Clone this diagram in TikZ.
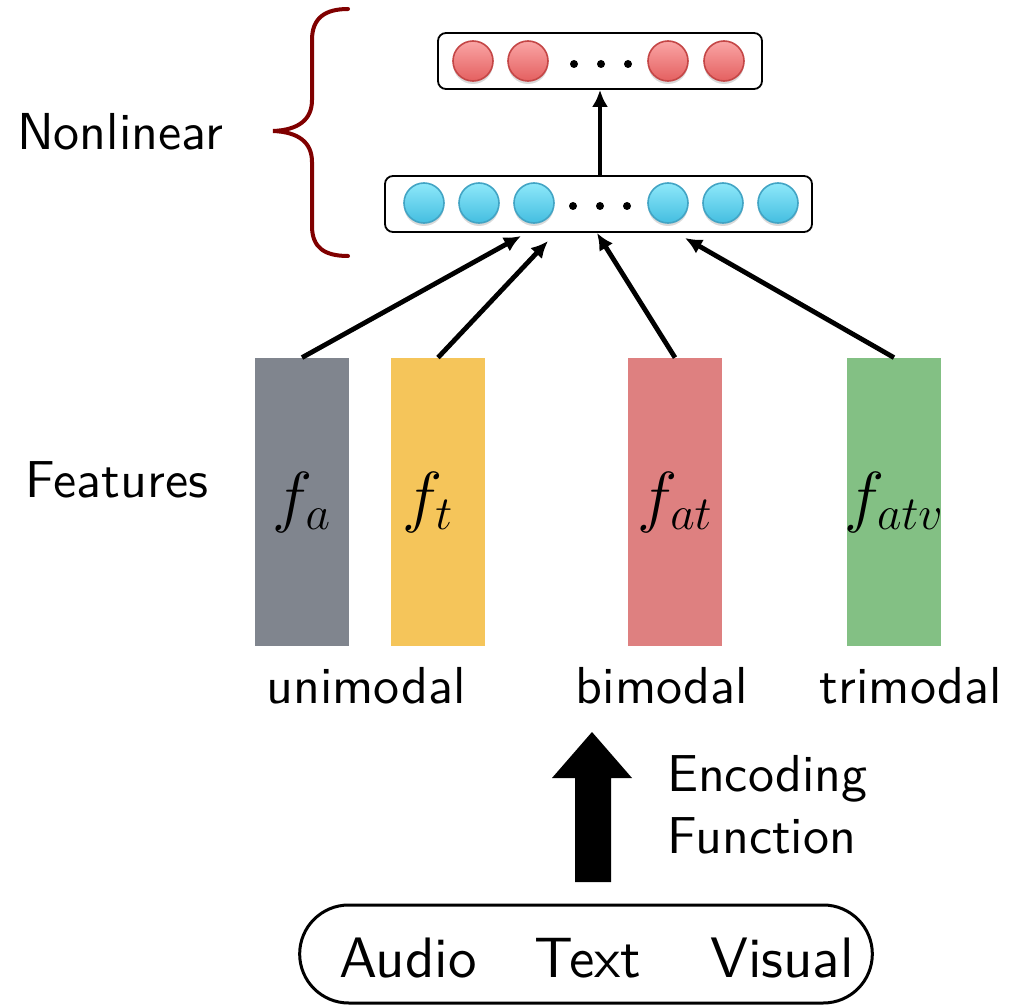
\RequirePackage{fix-cm}
\documentclass[tikz,border=0pt]{standalone}
\usepackage{fontspec}
\setsansfont{lmsans10-regular.otf}
\usepackage{tikz}
\usetikzlibrary{arrows.meta,positioning,shapes.misc,shadows,calc}
\definecolor{barGray}{RGB}{128,133,142}
\definecolor{barYellow}{RGB}{245,197,90}
\definecolor{barRed}{RGB}{222,128,128}
\definecolor{barGreen}{RGB}{131,192,132}
\definecolor{braceRed}{RGB}{128,0,0}
\definecolor{redTop}{RGB}{250,165,165}
\definecolor{redBot}{RGB}{228,96,96}
\definecolor{redEdge}{RGB}{196,70,70}
\definecolor{blueTop}{RGB}{142,232,250}
\definecolor{blueBot}{RGB}{68,190,224}
\definecolor{blueEdge}{RGB}{66,164,196}
\tikzset{
  mylayer/.style = {rectangle, rounded corners=4pt, draw, line width=0.9pt, minimum height=28pt},
  myunit/.style = {circle, line width=0.8pt, minimum size=20pt, inner sep=0pt,
    drop shadow={shadow xshift=0pt, shadow yshift=-1.5pt, opacity=0.3}},
  myred/.style = {myunit, draw=redEdge, top color=redTop, bottom color=redBot},
  myblue/.style = {myunit, draw=blueEdge, top color=blueTop, bottom color=blueBot},
  mybar/.style = {rectangle, minimum width=47pt, minimum height=144pt, inner sep=0pt,
    font=\fontsize{34}{40}\selectfont},
  myarrow/.style = {-{Latex[length=8.5pt,width=8pt]}, line width=2.4pt},
  mytext/.style = {font=\fontsize{26}{31}\selectfont\sffamily},
  mybig/.style = {font=\fontsize{28.5}{34}\selectfont\sffamily},
}

\begin{document}
\begin{tikzpicture}[x=0.5pt,y=-0.5pt]
\useasboundingbox (0,0) rectangle (1014,1006);
% layers
\node[mylayer, minimum width=162pt] (out) at (600,61) {};
\node[mylayer, minimum width=213.5pt] (hid) at (598.5,204) {};
\foreach \x [count=\i] in {473,528,668,724}
  \node[myred] (o\i) at (\x,61) {};
\foreach \x [count=\i] in {424,479,534,668,723,778}
  \node[myblue] (h\i) at (\x,203) {};
\foreach \x in {574,601,628} {
  \fill (\x,64) circle (2pt);
  \fill (\x-1,206) circle (2pt);
}
\draw[myarrow, line width=2pt] (hid.north -| out.south) -- (out.south);
% brace
\draw[braceRed, line width=2pt, line cap=round]
  (348,9) .. controls (325,9) and (312,18) .. (312,40) -- (312,100)
  .. controls (312,120) and (298,130) .. (273,131)
  .. controls (298,132) and (312,142) .. (312,162) -- (312,226)
  .. controls (312,248) and (325,256) .. (348,256);
\node[mytext, anchor=base] (nl) at (120,150) {Nonlinear};
% features
\node[mybar, fill=barGray] (fa) at (302,502) {$f_a$};
\node[mybar, fill=barYellow] (ft) at (438,502) {\hspace*{-10pt}$f_t$};
\node[mybar, fill=barRed] (fat) at (675,502) {$f_{at}$};
\node[mybar, fill=barGreen] (fatv) at (894,502) {\makebox[0pt]{$f_{atv}$}};
\node[mytext, anchor=base] (feat) at (117,497) {Features};
\coordinate (ina) at (521,236);
\coordinate (int) at (548,241);
\coordinate (inat) at (597,233);
\coordinate (inatv) at (685,238);
\draw[myarrow] (fa.north) -- (ina);
\draw[myarrow] (ft.north) -- (int);
\draw[myarrow] (fat.north) -- (inat);
\draw[myarrow] (fatv.north) -- (inatv);
\node[mytext, anchor=base] (uni) at (366,703) {unimodal};
\node[mytext, anchor=base] (bi) at (662,703) {bimodal};
\node[mytext, anchor=base] (tri) at (911,703) {trimodal};
% encoding
\fill (575,882) -- (575,778) -- (552,778) -- (592,732) -- (632,778)
  -- (611,778) -- (611,882) -- cycle;
\node[mytext, anchor=base west] (enc) at (660,791) {Encoding};
\node[mytext, anchor=base west] (fun) at (660,853) {Function};
% input
\node[rounded rectangle, draw, line width=1.5pt, minimum width=293pt,
  minimum height=49pt] (inp) at (586,954) {};
\node[mybig, anchor=base] (aud) at (408,977) {Audio};
\node[mybig, anchor=base] (txt) at (588,977) {Text};
\node[mybig, anchor=base] (vis) at (782,977) {Visual};
\end{tikzpicture}
\end{document}
